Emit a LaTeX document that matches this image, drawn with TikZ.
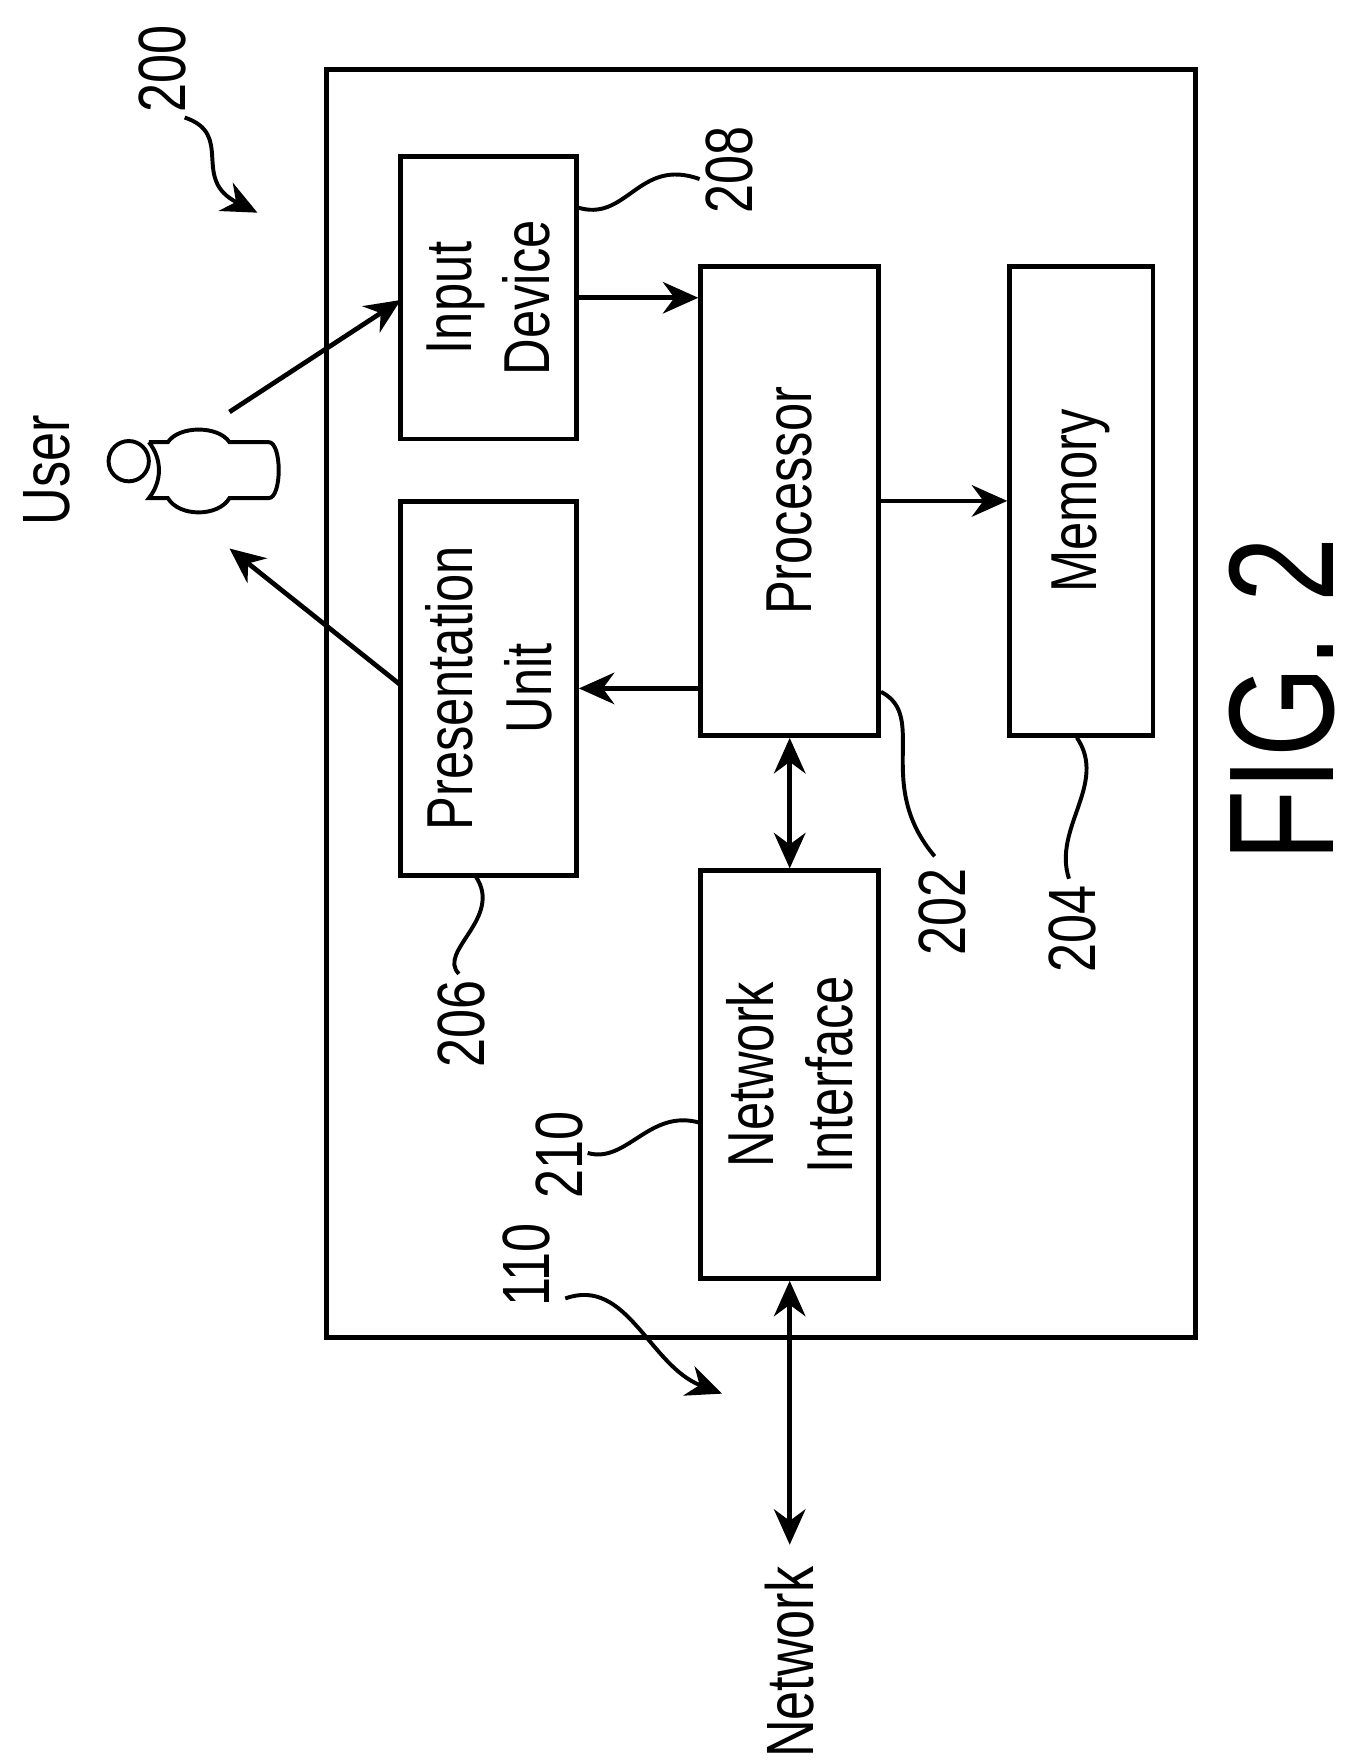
\documentclass[tikz,border=0pt]{standalone}
\usepackage{fontspec}
\setmainfont{Liberation Sans}[FakeStretch=0.78]
\usetikzlibrary{arrows.meta,calc}
\begin{document}
\begin{tikzpicture}[x=0.01cm,y=-0.01cm,
  box/.style={draw,line width=1.2pt,rotate=90,align=center,font=\fontsize{16.5}{20}\selectfont,inner sep=0pt},
  lbl/.style={rotate=90,font=\fontsize{17}{20}\selectfont},
  arr/.style={line width=1.2pt,-{Stealth[length=9pt,width=8pt]}},
  darr/.style={line width=1.2pt,{Stealth[length=9pt,width=8pt]}-{Stealth[length=9pt,width=8pt]}},
  sq/.style={line width=1pt}]
  \useasboundingbox (0,0) rectangle (1220,1575);
  \draw[line width=1.2pt] (292,62) rectangle (1068,1195);
  % blocks
  \node[box,minimum width=2.52cm,minimum height=1.57cm] (inp) at (436.5,266) {Input\\Device};
  \node[box,minimum width=3.34cm,minimum height=1.57cm] (pres) at (436.5,615) {Presentation\\Unit};
  \node[box,minimum width=4.19cm,minimum height=1.59cm] (proc) at (705.5,447.5) {Processor};
  \node[box,minimum width=4.19cm,minimum height=1.28cm] (mem) at (966,447.5) {Memory};
  \node[box,minimum width=3.64cm,minimum height=1.59cm] (net) at (705.5,960) {Network\\Interface};
  \node[lbl] (nw) at (705,1485) {Network};
  \node[lbl] (user) at (42,420) {User};
  \node[lbl] (fig) at (1145,625) {\fontsize{38}{40}\selectfont FIG. 2};
  % user figure
  \draw[line width=1pt] (115,412) circle (18);
  \draw[line width=1pt] (133,395) -- (150,395) .. controls (160,380) and (195,380) .. (205,395)
    -- (240,395) .. controls (252,395) and (252,445) .. (240,445) -- (205,445)
    .. controls (195,462) and (160,462) .. (150,445) -- (133,445)
    .. controls (145,430) and (145,410) .. (133,395);
  \coordinate (ua) at (205,368);
  \coordinate (ub) at (205,490);
  \coordinate (nwtip) at (705.5,1380);
  % connectors
  \draw[arr] (ua) -- (358,268);
  \draw[arr] (358,612) -- (ub);
  \draw[arr] (inp.south) -- (inp.south -| proc.north);
  \draw[arr] (pres.south -| proc.north) -- (pres.south);
  \draw[arr] (proc.south) -- (mem.north);
  \draw[darr] (proc.west) -- (net.east);
  \draw[darr] (net.west) -- (nwtip);
  % reference numerals
  \node[lbl] (n200) at (145,62) {200};
  \draw[sq,-{Stealth[length=9pt,width=8pt]}] (165,105) .. controls (210,120) and (170,160) .. (230,190);
  \node[lbl] (n208) at (652,152) {208};
  \draw[sq] (515,185) .. controls (560,200) and (570,140) .. (625,160);
  \node[lbl] (n202) at (842,815) {202};
  \draw[sq] (787,618) .. controls (830,640) and (780,700) .. (835,765);
  \node[lbl] (n204) at (958,830) {204};
  \draw[sq] (962,659) .. controls (990,700) and (940,740) .. (955,785);
  \node[lbl] (n206) at (412,915) {206};
  \draw[sq] (425,783) .. controls (450,820) and (390,850) .. (410,870);
  \node[lbl] (n210) at (500,1032) {210};
  \draw[sq] (625,1003) .. controls (580,990) and (560,1040) .. (525,1030);
  \node[lbl] (n110) at (470,1130) {110};
  \draw[sq,-{Stealth[length=9pt,width=8pt]}] (505,1160) .. controls (560,1140) and (580,1220) .. (645,1245);
\end{tikzpicture}
\end{document}
